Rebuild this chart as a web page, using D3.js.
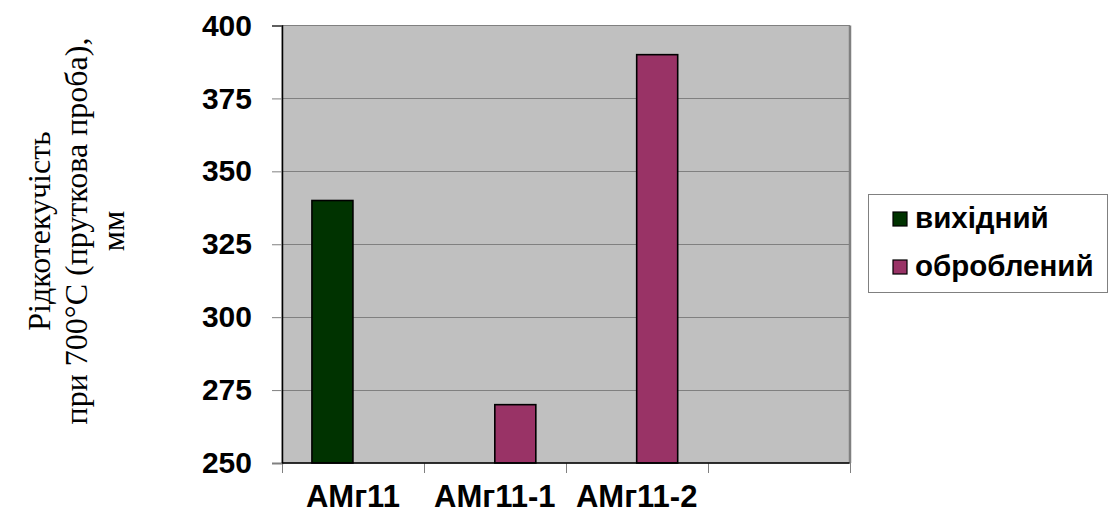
<!DOCTYPE html>
<html>
<head>
<meta charset="utf-8">
<script src="https://cdn.jsdelivr.net/npm/d3@7"></script>
<style>
  html, body { margin: 0; padding: 0; background: #fff; }
  svg { display: block; }
</style>
</head>
<body>
<svg id="chart" width="1109" height="515"></svg>
<script>
// Alloy samples along the category axis (last slot is left empty)
const categories = ["АМг11", "АМг11-1", "АМг11-2", ""];
const seriesNames = ["вихідний", "оброблений"];
const initialValues = [340, null, null, null];
const treatedValues = [null, 270, 390, null];
const yTicks = [250, 275, 300, 325, 350, 375, 400];
const titleLines = ["Рідкотекучість", "при 700°С (пруткова проба),", "мм"];

const colors = ["#003300", "#993366"];
const seriesValues = [initialValues, treatedValues];

const svg = d3.select("#chart");
const plot = { left: 282, right: 849.5, top: 25.5, bottom: 463 };

const x = d3.scaleBand().domain(categories.map((c, i) => i))
  .range([plot.left, plot.right]).paddingInner(0).paddingOuter(0);
const xSeries = d3.scaleBand().domain(seriesNames)
  .range([0, x.bandwidth()]).paddingInner(0).paddingOuter(0.73);
const y = d3.scaleLinear().domain([250, 400]).range([plot.bottom, plot.top]);

// plot background
svg.append("rect")
  .attr("x", plot.left).attr("y", plot.top)
  .attr("width", plot.right - plot.left).attr("height", plot.bottom - plot.top)
  .attr("fill", "#c0c0c0").attr("stroke", "#808080").attr("stroke-width", 1);
svg.append("line")
  .attr("x1", plot.right + 0.5).attr("x2", plot.right + 0.5)
  .attr("y1", plot.top).attr("y2", plot.bottom)
  .attr("stroke", "#808080").attr("stroke-width", 2.5);

// horizontal gridlines
svg.append("g").selectAll("line")
  .data(yTicks.filter(t => t !== 250 && t !== 400))
  .join("line")
  .attr("x1", plot.left).attr("x2", plot.right)
  .attr("y1", d => Math.round(y(d)) + 0.5).attr("y2", d => Math.round(y(d)) + 0.5)
  .attr("stroke", "#808080").attr("stroke-width", 1);

// bars
seriesNames.forEach((name, si) => {
  svg.append("g").selectAll("rect")
    .data(seriesValues[si].map((v, i) => ({ i, v })).filter(d => d.v != null))
    .join("rect")
    .attr("x", d => x(d.i) + xSeries(name))
    .attr("y", d => y(d.v))
    .attr("width", xSeries.bandwidth())
    .attr("height", d => y(250) - y(d.v))
    .attr("fill", colors[si])
    .attr("stroke", "#000").attr("stroke-width", 1.6);
});

// y axis
const yAxis = d3.axisLeft(y).tickValues(yTicks).tickSize(10).tickPadding(20);
const gy = svg.append("g").attr("transform", `translate(${plot.left},0)`).call(yAxis);
gy.select(".domain").attr("stroke", "#000").attr("stroke-width", 1.5);
gy.selectAll(".tick line").attr("stroke", "#808080");
gy.selectAll(".tick text")
  .attr("font-family", "'Liberation Sans', Arial, sans-serif")
  .attr("font-weight", "bold").attr("font-size", 30).attr("fill", "#000");

// x axis: ticks on the category boundaries, labels on the centers
const boundaries = d3.range(categories.length + 1).map(i => plot.left + i * x.step());
svg.append("g").selectAll("line").data(boundaries).join("line")
  .attr("x1", d => Math.round(d) + 0.5).attr("x2", d => Math.round(d) + 0.5)
  .attr("y1", plot.bottom).attr("y2", plot.bottom + 10)
  .attr("stroke", "#808080").attr("stroke-width", 1);
svg.append("line")
  .attr("x1", plot.left).attr("x2", plot.right)
  .attr("y1", plot.bottom).attr("y2", plot.bottom)
  .attr("stroke", "#000").attr("stroke-width", 1.5);
svg.append("g").selectAll("text").data(categories.map((c, i) => ({ c, i })))
  .join("text")
  .attr("x", d => x(d.i) + x.bandwidth() / 2)
  .attr("y", 507)
  .attr("text-anchor", "middle")
  .attr("font-family", "'Liberation Sans', Arial, sans-serif")
  .attr("font-weight", "bold").attr("font-size", 31)
  .text(d => d.c);

// y axis title (three rotated lines)
const title = svg.append("text")
  .attr("transform", "translate(0,231) rotate(-90)")
  .attr("text-anchor", "middle")
  .attr("font-family", "'Liberation Serif', 'Times New Roman', serif")
  .attr("font-size", 32).attr("fill", "#000");
titleLines.forEach((t, i) => {
  title.append("tspan").attr("x", 0).attr("y", 50 + i * 37).text(t);
});

// legend
const legend = svg.append("g");
legend.append("rect")
  .attr("x", 868.5).attr("y", 194.5).attr("width", 239).attr("height", 98)
  .attr("fill", "#fff").attr("stroke", "#808080").attr("stroke-width", 1);
const legendRows = legend.selectAll("g.row").data(seriesNames).join("g")
  .attr("class", "row")
  .attr("transform", (d, i) => `translate(893,${212 + i * 48})`);
legendRows.append("rect")
  .attr("width", 14).attr("height", 14)
  .attr("fill", (d, i) => colors[i]).attr("stroke", "#000").attr("stroke-width", 1.2);
legendRows.append("text")
  .attr("x", 22).attr("y", 16)
  .attr("font-family", "'Liberation Sans', Arial, sans-serif")
  .attr("font-weight", "bold").attr("font-size", 29.5)
  .text(d => d);
</script>
</body>
</html>
